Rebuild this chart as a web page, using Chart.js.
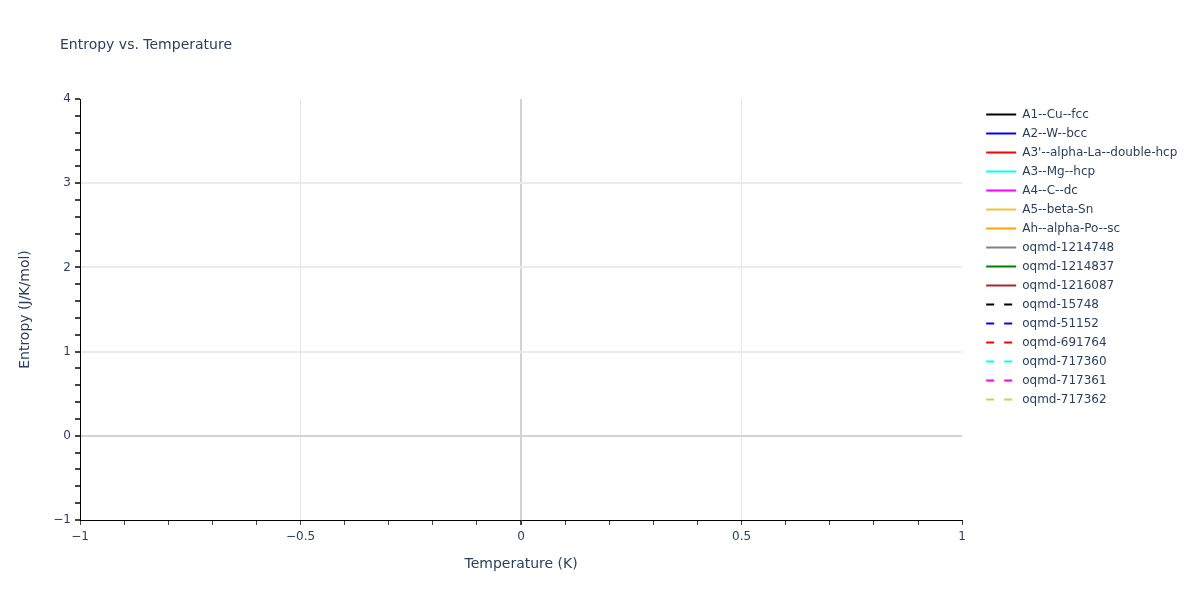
<!DOCTYPE html>
<html>
<head>
<meta charset="utf-8">
<script src="https://cdn.jsdelivr.net/npm/chart.js@4.4.0/dist/chart.umd.min.js"></script>
<style>
  html, body { margin: 0; padding: 0; background: #fff; }
</style>
</head>
<body>
<canvas id="entropy-chart" width="1200" height="600"></canvas>
<script>
const chartTitle = 'Entropy vs. Temperature';
const xTitle = 'Temperature (K)';
const yTitle = 'Entropy (J/K/mol)';

const seriesNames = [
  'A1--Cu--fcc', 'A2--W--bcc', "A3'--alpha-La--double-hcp", 'A3--Mg--hcp',
  'A4--C--dc', 'A5--beta-Sn', 'Ah--alpha-Po--sc', 'oqmd-1214748',
  'oqmd-1214837', 'oqmd-1216087', 'oqmd-15748', 'oqmd-51152',
  'oqmd-691764', 'oqmd-717360', 'oqmd-717361', 'oqmd-717362'
];
const seriesColors = [
  '#000000', '#0000ff', '#ff0000', '#00ffff', '#ff00ff', '#f0c43a', '#ffa500', '#808080',
  '#008000', '#a52a2a', '#000000', '#0000ff', '#ff0000', '#00ffff', '#ff00ff', '#f0c43a'
];
const seriesDashed = [
  false, false, false, false, false, false, false, false,
  false, false, true, true, true, true, true, true
];
// the reference plot has no data points, every trace is empty
const seriesValues = [[], [], [], [], [], [], [], [], [], [], [], [], [], [], [], []];

const xRange = [-1, 1];
const yRange = [-1, 4];
const xTickLabels = [-1, -0.5, 0, 0.5, 1];
const yTickLabels = [-1, 0, 1, 2, 3, 4];

const textColor = '#2a3f5f';
const fontFamily = "'DejaVu Sans', Verdana, sans-serif";
Chart.defaults.font.family = fontFamily;

function isLabelled(v, list) {
  return list.some(t => Math.abs(t - v) < 1e-6);
}
function fmt(v) {
  return String(Math.round(v * 10) / 10).replace('-', '\u2212');
}

// widest legend label decides how far the legend has to sit from the right edge
const measureCtx = document.createElement('canvas').getContext('2d');
measureCtx.font = '12px ' + fontFamily;
const widestLabel = Math.max(...seriesNames.map(n => measureCtx.measureText(n).width));
const rightPad = Math.max(0, Math.round(180 - widestLabel));

const titlePlugin = {
  id: 'plotTitle',
  afterDraw(chart) {
    const ctx = chart.ctx;
    ctx.save();
    ctx.font = '14px ' + fontFamily;
    ctx.fillStyle = textColor;
    ctx.textBaseline = 'middle';
    ctx.textAlign = 'left';
    ctx.fillText(chartTitle, 60, 45);
    ctx.restore();
  }
};

// legend clips to its own box, give the long label a little room
const legendRoom = {
  id: 'legendRoom',
  afterLayout(chart) {
    if (chart.legend) {
      chart.legend.right += 8;
      chart.legend.width += 8;
    }
  }
};

const datasets = seriesNames.map((name, i) => ({
  label: name,
  data: seriesValues[i],
  borderColor: seriesColors[i],
  backgroundColor: seriesColors[i],
  borderWidth: 2,
  borderDash: seriesDashed[i] ? [8, 10] : [],
  pointStyle: 'line'
}));

new Chart(document.getElementById('entropy-chart'), {
  type: 'line',
  data: { datasets: datasets },
  options: {
    responsive: false,
    animation: false,
    layout: { padding: { top: 99, right: rightPad, bottom: 0, left: 0 } },
    plugins: {
      tooltip: { enabled: false },
      title: { display: false },
      legend: {
        position: 'right',
        align: 'start',
        fullSize: false,
        title: { display: true, text: '', font: { size: 1 }, padding: 0.6 },
        labels: {
          usePointStyle: true,
          pointStyleWidth: 30,
          padding: 7,
          color: textColor,
          font: { size: 12 },
          generateLabels(chart) {
            const items = Chart.defaults.plugins.legend.labels.generateLabels(chart);
            items.forEach(it => {
              const i = it.datasetIndex;
              it.pointStyle = 'line';
              it.lineWidth = 2;
              it.strokeStyle = seriesColors[i];
              it.fillStyle = seriesColors[i];
              it.lineDash = seriesDashed[i] ? [8, 10] : [];
            });
            return items;
          }
        }
      }
    },
    scales: {
      x: {
        type: 'linear',
        position: 'bottom',
        min: xRange[0],
        max: xRange[1],
        ticks: {
          stepSize: 0.1,
          autoSkip: false,
          maxRotation: 0,
          padding: 5,
          color: textColor,
          font: { size: 12 },
          callback: v => isLabelled(v, xTickLabels) ? fmt(v) : ''
        },
        grid: {
          color: c => {
            const v = c.tick ? c.tick.value : null;
            if (v === null) return 'transparent';
            if (Math.abs(v) < 1e-6) return '#d3d3d3';
            if (Math.abs(Math.abs(v) - 0.5) < 1e-6) return '#e5e5e5';
            return 'transparent';
          },
          lineWidth: c => (c.tick && Math.abs(c.tick.value) < 1e-6) ? 2 : 1,
          tickLength: 5,
          tickColor: '#444'
        },
        border: { color: '#000', width: 1 },
        title: {
          display: true,
          text: xTitle,
          color: textColor,
          font: { size: 14 },
          padding: { top: 0, bottom: 27 }
        },
        afterFit(s) { s.height = 80; }
      },
      y: {
        type: 'linear',
        position: 'left',
        min: yRange[0],
        max: yRange[1],
        ticks: {
          stepSize: 0.2,
          autoSkip: false,
          padding: 4,
          color: textColor,
          font: { size: 12 },
          callback: v => isLabelled(v, yTickLabels) ? fmt(v) : ''
        },
        grid: {
          color: c => {
            const v = c.tick ? c.tick.value : null;
            if (v === null) return 'transparent';
            if (Math.abs(v) < 1e-6) return '#d3d3d3';
            if (v > 0.5 && v < 3.5 && Math.abs(v - Math.round(v)) < 1e-6) return '#ebebeb';
            return 'transparent';
          },
          lineWidth: 2,
          tickLength: 5,
          tickColor: '#444'
        },
        border: { color: '#000', width: 1 },
        title: {
          display: true,
          text: yTitle,
          color: textColor,
          font: { size: 14 },
          padding: { top: 17, bottom: 0 }
        },
        afterFit(s) { s.width = 80; }
      },
      spacer: {
        type: 'linear',
        position: 'right',
        min: 0,
        max: 1,
        grid: { display: false, drawTicks: false },
        border: { display: false },
        ticks: { display: false },
        afterFit(s) { s.width = 17; }
      }
    }
  },
  plugins: [titlePlugin, legendRoom]
});
</script>
</body>
</html>
